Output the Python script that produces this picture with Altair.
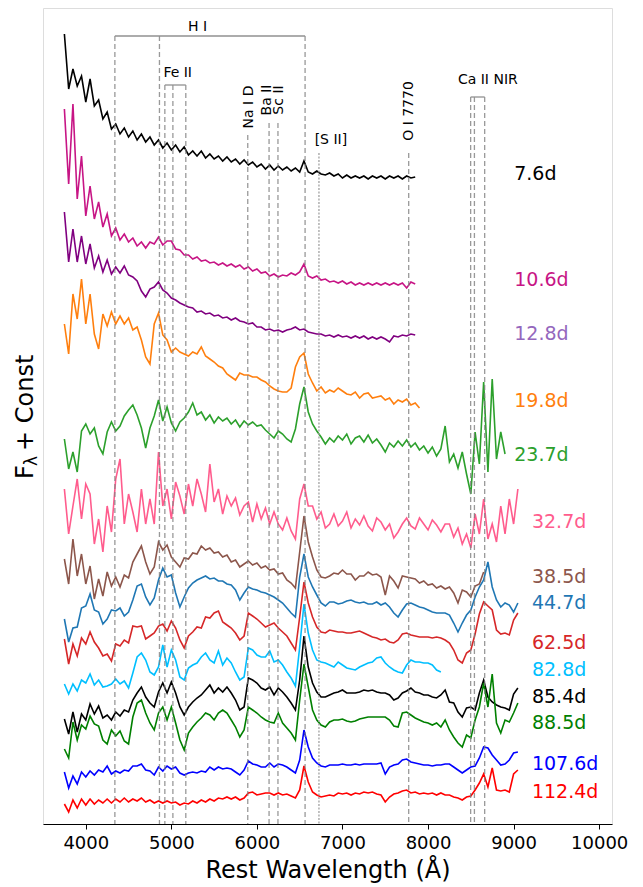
import altair as alt
import pandas as pd

# ---------------- data ----------------
WL_START = 3750.0   # first sample of every spectrum (Angstrom)
WL_STEP = 50.0      # sample spacing (Angstrom)

epochs = ["7.6d", "10.6d", "12.8d", "19.8d", "23.7d", "32.7d", "38.5d",
          "44.7d", "62.5d", "82.8d", "85.4d", "88.5d", "107.6d", "112.4d"]
line_colors = ["#000000", "#c71585", "#800080", "#ff7f0e", "#2ca02c", "#ff5c8d",
               "#8c564b", "#1f77b4", "#d62728", "#00bfff", "#000000", "#008000",
               "#0000ff", "#ff0000"]
label_colors = ["#000000", "#c71585", "#9467bd", "#ff7f0e", "#2ca02c", "#ff5c8d",
                "#8c564b", "#1f77b4", "#d62728", "#00bfff", "#000000", "#008000",
                "#0000ff", "#ff0000"]
label_wl = [9007, 9007, 9007, 9007, 9007, 9214, 9214, 9214, 9214, 9214, 9214, 9214, 9214, 9214]
label_flux = [650, 544, 490, 423, 369, 302, 247, 221, 181, 154, 127, 101, 60, 32]

f_7_6 = [
    790, 735, 755, 738, 748, 722, 745, 718, 724, 705,
    712, 695, 700, 690, 696, 687, 693, 684, 690, 682,
    687, 679, 684, 676, 681, 674, 679, 672, 677, 669,
    673, 668, 673, 666, 670, 665, 668, 663, 667, 662,
    665, 660, 664, 659, 662, 657, 660, 655, 659, 654,
    658, 654, 657, 653, 656, 652, 663, 652, 650, 653,
    650, 649, 651, 648, 650, 646, 649, 646, 648, 646,
    648, 645, 648, 646, 648, 645, 648, 646, 648, 645,
    648, 646, 647]
f_10_6 = [
    715, 640, 720, 625, 668, 608, 638, 605, 622, 597,
    610, 588, 596, 584, 590, 582, 586, 578, 582, 576,
    582, 580, 587, 579, 583, 583, 575, 574, 569, 569,
    565, 567, 563, 564, 561, 562, 559, 561, 558, 560,
    557, 559, 555, 557, 553, 555, 551, 552, 548, 550,
    547, 549, 548, 551, 549, 552, 560, 548, 546, 548,
    544, 545, 542, 543, 541, 543, 540, 542, 539, 541,
    539, 541, 539, 541, 539, 541, 539, 541, 539, 541,
    536, 542, 540]
f_12_8 = [
    612, 562, 595, 562, 588, 560, 580, 556, 568, 552,
    564, 550, 557, 551, 558, 549, 547, 543, 533, 527,
    535, 537, 542, 534, 531, 526, 524, 521, 519, 517,
    516, 512, 513, 510, 511, 508, 509, 506, 507, 504,
    506, 503, 502, 500, 501, 497, 497, 494, 495, 493,
    494, 492, 494, 495, 497, 494, 495, 492, 491, 490,
    490, 488, 489, 487, 489, 487, 488, 486, 488, 486,
    488, 485, 487, 485, 487, 485, 482, 488, 487, 489,
    488, 490, 489]
f_19_8 = [
    500, 470, 530, 505, 545, 500, 530, 490, 475, 510,
    498, 512, 500, 508, 500, 506, 494, 497, 484, 467,
    460, 500, 511, 489, 484, 472, 476, 472, 470, 468,
    472, 470, 477, 468, 465, 462, 458, 456, 450, 447,
    444, 451, 449, 449, 447, 447, 444, 442, 438, 435,
    433, 432, 432, 436, 457, 467, 471, 450, 441, 433,
    437, 431, 434, 432, 436, 433, 430, 429, 432, 426,
    430, 431, 426, 427, 428, 424, 426, 420, 424, 422,
    425, 419, 421, 416]
f_23_7 = [
    385, 355, 372, 352, 393, 400, 390, 396, 378, 370,
    392, 402, 393, 398, 408, 414, 419, 409, 396, 376,
    396, 408, 424, 403, 417, 401, 393, 402, 406, 412,
    421, 409, 412, 404, 409, 401, 407, 403, 406, 400,
    404, 397, 403, 399, 402, 398, 399, 394, 390, 386,
    393, 390, 385, 382, 395, 420, 437, 412, 400, 393,
    387, 380, 386, 382, 388, 384, 390, 380, 386, 388,
    382, 389, 381, 385, 379, 372, 381, 377, 383, 378,
    384, 377, 381, 374, 378, 371, 377, 368, 375, 398,
    362, 370, 356, 372, 350, 330, 392, 360, 442, 352,
    445, 365, 392, 370]
f_32_7 = [
    335, 290, 318, 345, 305, 340, 330, 280, 305, 272,
    318, 292, 345, 365, 300, 330, 312, 292, 335, 300,
    325, 300, 372, 318, 335, 305, 342, 328, 310, 340,
    318, 345, 330, 312, 360, 322, 335, 310, 328, 318,
    326, 309, 318, 322, 302, 320, 305, 316, 300, 312,
    300, 294, 306, 293, 285, 325, 340, 318, 318, 305,
    312, 296, 300, 310, 298, 303, 312, 296, 305, 299,
    308, 298, 293, 306, 302, 294, 300, 286, 292, 300,
    306, 298, 295, 306, 300, 294, 304, 299, 292, 300,
    300, 287, 296, 280, 290, 276, 310, 290, 325, 285,
    300, 282, 318, 290, 325, 300, 335]
f_38_5 = [
    265, 240, 285, 248, 270, 240, 258, 225, 245, 228,
    252, 238, 247, 237, 249, 246, 262, 270, 278, 262,
    250, 257, 282, 274, 279, 267, 262, 257, 266, 265,
    271, 270, 278, 274, 276, 271, 272, 267, 269, 262,
    264, 257, 260, 263, 259, 261, 256, 258, 254, 255,
    250, 251, 244, 241, 236, 272, 308, 282, 267, 254,
    247, 246, 248, 251, 250, 254, 250, 250, 244, 248,
    248, 252, 249, 250, 247, 229, 248, 243, 236, 248,
    247, 246, 245, 241, 243, 239, 240, 236, 238, 235,
    237, 231, 221, 234, 232, 227, 238, 240, 252]
f_44_7 = [
    205, 182, 196, 197, 216, 218, 230, 214, 212, 200,
    205, 214, 213, 216, 208, 212, 224, 238, 240, 227,
    219, 226, 244, 256, 247, 249, 231, 217, 227, 236,
    241, 244, 246, 248, 245, 246, 243, 243, 240, 239,
    234, 224, 231, 237, 235, 234, 232, 231, 229, 227,
    224, 221, 216, 211, 207, 247, 270, 247, 237, 229,
    221, 218, 222, 222, 220, 221, 223, 224, 222, 221,
    222, 220, 220, 222, 219, 221, 217, 211, 207, 214,
    220, 221, 219, 217, 216, 214, 212, 211, 211, 211,
    209, 201, 192, 201, 209, 214, 227, 237, 244, 262,
    237, 224, 217, 221, 219, 212, 221]
f_62_5 = [
    185, 160, 180, 168, 186, 180, 192, 182, 176, 168,
    170, 163, 180, 178, 184, 181, 198, 197, 198, 185,
    188, 191, 198, 200, 193, 203, 196, 184, 176, 188,
    192, 197, 196, 207, 206, 211, 213, 202, 199, 196,
    191, 184, 188, 211, 208, 205, 201, 197, 199, 201,
    196, 192, 188, 181, 174, 207, 242, 221, 207, 197,
    192, 191, 194, 193, 192, 192, 191, 191, 192, 193,
    191, 189, 187, 186, 184, 185, 182, 181, 184, 190,
    191, 189, 188, 187, 187, 187, 186, 187, 186, 184,
    181, 174, 164, 161, 171, 174, 190, 210, 222, 218,
    214, 194, 190, 191, 189, 204, 211]
f_82_8 = [
    140, 130, 140, 133, 144, 141, 150, 139, 144, 137,
    138, 140, 145, 140, 143, 136, 151, 167, 171, 164,
    152, 149, 157, 179, 157, 174, 164, 147, 144, 156,
    159, 161, 167, 171, 164, 161, 173, 159, 166, 161,
    152, 144, 147, 176, 174, 169, 167, 167, 173, 162,
    164, 159, 152, 146, 138, 177, 220, 191, 174, 164,
    162, 161, 159, 157, 162, 159, 156, 155, 154, 157,
    159, 161, 162, 166, 167, 161, 157, 154, 152, 151,
    159, 164, 162, 162, 161, 161, 159, 154, 152]
f_85_4 = [
    105, 90, 112, 92, 110, 104, 120, 110, 118, 106,
    109, 104, 112, 108, 114, 112, 124, 131, 137, 127,
    121, 117, 132, 141, 131, 142, 131, 117, 109, 117,
    122, 126, 129, 134, 139, 131, 136, 132, 137, 131,
    124, 114, 117, 146, 144, 141, 136, 134, 137, 129,
    136, 132, 127, 121, 114, 144, 188, 157, 141, 132,
    127, 127, 129, 131, 132, 134, 131, 131, 131, 132,
    134, 133, 134, 132, 131, 131, 129, 124, 126, 131,
    133, 136, 132, 131, 129, 129, 127, 126, 129, 134,
    122, 121, 112, 107, 116, 117, 114, 131, 144, 127,
    122, 119, 117, 116, 114, 130, 136]
f_88_5 = [
    75, 66, 102, 84, 99, 95, 108, 100, 98, 84,
    80, 94, 88, 93, 83, 80, 107, 121, 124, 111,
    101, 94, 111, 117, 104, 117, 101, 84, 74, 91,
    97, 102, 106, 111, 109, 104, 111, 114, 111, 104,
    97, 87, 94, 117, 114, 111, 107, 104, 102, 101,
    111, 101, 96, 91, 84, 124, 160, 137, 114, 104,
    99, 97, 102, 104, 104, 105, 103, 102, 103, 105,
    106, 107, 107, 107, 107, 107, 104, 98, 97, 111,
    112, 109, 106, 104, 102, 101, 99, 101, 97, 104,
    94, 87, 81, 77, 89, 86, 104, 117, 141, 117,
    150, 101, 91, 104, 102, 111, 121]
f_107_6 = [
    52, 36, 48, 40, 52, 47, 53, 49, 54, 52,
    58, 50, 53, 51, 54, 53, 58, 58, 60, 54,
    53, 49, 57, 53, 58, 55, 57, 51, 49, 51,
    52, 51, 53, 52, 57, 54, 57, 55, 56, 55,
    52, 49, 54, 63, 60, 59, 57, 57, 61, 57,
    60, 59, 57, 54, 51, 64, 94, 77, 66, 61,
    58, 57, 59, 59, 59, 60, 59, 59, 60, 59,
    60, 60, 60, 60, 61, 50, 57, 59, 60, 64,
    65, 62, 61, 60, 59, 59, 58, 59, 59, 60,
    60, 57, 54, 51, 54, 57, 58, 66, 77, 76,
    69, 64, 59, 60, 64, 71, 72]
f_112_4 = [
    20, 12, 24, 16, 25, 19, 25, 20, 24, 21,
    25, 21, 25, 22, 26, 22, 25, 23, 26, 22,
    24, 21, 23, 21, 23, 21, 22, 19, 21, 20,
    23, 21, 24, 22, 25, 23, 26, 25, 27, 25,
    27, 24, 26, 31, 32, 29, 30, 31, 31, 29,
    31, 29, 30, 28, 26, 34, 58, 42, 32, 29,
    27, 28, 29, 28, 31, 30, 31, 29, 31, 30,
    32, 31, 32, 30, 29, 22, 27, 30, 31, 33,
    34, 31, 32, 30, 31, 30, 31, 29, 31, 29,
    29, 27, 26, 24, 27, 28, 34, 41, 50, 37,
    56, 34, 33, 34, 32, 50, 54]

fluxes = [f_7_6, f_10_6, f_12_8, f_19_8, f_23_7, f_32_7, f_38_5,
          f_44_7, f_62_5, f_82_8, f_85_4, f_88_5, f_107_6, f_112_4]

# line identifications
marker_wl = [4340, 4861, 6563, 4924, 5018, 5169, 5893, 6142, 6246, 7774, 8498, 8542, 8662]
marker_top = [788, 788, 788, 739, 739, 739, 689, 701, 701, 671, 727, 727, 727]
sii_wl = [6725]
sii_top = [671]
bracket_start = [4340, 4924, 8498]
bracket_end = [6563, 5169, 8662]
bracket_level = [788, 739, 727]
ion_text = ["H I", "Fe II", "[S II]", "Ca II NIR"]
ion_wl = [5307, 5074, 6865, 8699]
ion_flux = [797, 751, 684, 744]
ion_vtext = ["Na I D", "Ba II", "Sc II", "O I 7770"]
ion_vwl = [5906, 6123, 6263, 7777]
ion_vflux = [717, 724, 724, 713]

x_ticks = [4000, 5000, 6000, 7000, 8000, 9000, 10000]

# ---------------- chart ----------------
FONT = "DejaVu Sans"
W, H = 569, 816
xscale = alt.Scale(domain=[3500, 10150], nice=False, zero=False)
yscale = alt.Scale(domain=[0, 816], nice=False, zero=False)
xaxis = alt.Axis(values=x_ticks, format="d", grid=False, tickSize=5, tickColor="black",
                 tickWidth=1, domainColor="black", labelFontSize=18, labelPadding=5,
                 labelColor="black", labelFont=FONT, labelOverlap=False, labelFlush=False,
                 title="Rest Wavelength (Å)", titleFontSize=24, titleFont=FONT,
                 titleFontWeight="normal", titleColor="black", titleY=53,
                 titleBaseline="alphabetic")


def X(field):
    return alt.X(f"{field}:Q", scale=xscale, axis=xaxis)


def Y(field):
    return alt.Y(f"{field}:Q", scale=yscale, axis=None)


layers = []
for ep, col, fl in zip(epochs, line_colors, fluxes):
    df = pd.DataFrame({"wl": [WL_START + WL_STEP * i for i in range(len(fl))],
                       "flux": fl, "epoch": ep})
    layers.append(alt.Chart(df).mark_line(color=col, strokeWidth=1.6, clip=True)
                  .encode(x=X("wl"), y=Y("flux")))

mk = pd.DataFrame({"wl": marker_wl, "flux": marker_top, "bottom": [0] * len(marker_wl)})
layers.append(alt.Chart(mk).mark_rule(color="#808080", opacity=0.8, strokeWidth=1.3,
                                      strokeDash=[5, 3])
              .encode(x=X("wl"), y=Y("flux"), y2="bottom:Q"))
sk = pd.DataFrame({"wl": sii_wl, "flux": sii_top, "bottom": [0]})
layers.append(alt.Chart(sk).mark_rule(color="#a0a0a0", opacity=0.8, strokeWidth=1.6,
                                      strokeDash=[2, 1.5])
              .encode(x=X("wl"), y=Y("flux"), y2="bottom:Q"))
br = pd.DataFrame({"wl": bracket_start, "wl2": bracket_end, "flux": bracket_level})
layers.append(alt.Chart(br).mark_rule(color="#909090", strokeWidth=1.3)
              .encode(x=X("wl"), x2="wl2:Q", y=Y("flux")))

it = pd.DataFrame({"wl": ion_wl, "flux": ion_flux, "t": ion_text})
layers.append(alt.Chart(it).mark_text(font=FONT, fontSize=14, color="black",
                                      align="center", baseline="middle")
              .encode(x=X("wl"), y=Y("flux"), text="t:N"))
iv = pd.DataFrame({"wl": ion_vwl, "flux": ion_vflux, "t": ion_vtext})
layers.append(alt.Chart(iv).mark_text(font=FONT, fontSize=14, color="black", angle=270,
                                      align="center", baseline="middle")
              .encode(x=X("wl"), y=Y("flux"), text="t:N"))

lb = pd.DataFrame({"wl": label_wl, "flux": label_flux, "t": epochs, "c": label_colors})
layers.append(alt.Chart(lb).mark_text(font=FONT, fontSize=19, align="left",
                                      baseline="middle")
              .encode(x=X("wl"), y=Y("flux"), text="t:N",
                      color=alt.Color("c:N", scale=None)))

# y-axis title  F_lambda + Const  (pieces, rotated)
yt = pd.DataFrame({"t": ["F", "λ", "+ Const"], "fs": [24, 17, 24],
                   "px": [-10, -6, -10], "py": [471, 458, 443]})
for i in range(3):
    row = yt.iloc[[i]]
    layers.append(alt.Chart(row).mark_text(font=FONT, fontSize=int(row["fs"].iloc[0]),
                                           angle=270, align="left",
                                           baseline="alphabetic", color="black")
                  .encode(text="t:N", x=alt.value(float(row["px"].iloc[0])),
                          y=alt.value(float(row["py"].iloc[0]))))

chart = (alt.layer(*layers)
         .properties(width=W, height=H,
                     autosize=alt.AutoSizeParams(type="none"),
                     padding={"left": 35, "top": 0, "right": 16, "bottom": 60})
         .configure_view(stroke="black", strokeWidth=1.2)
         .configure(background="white"))

chart.save("out.html", embed_options={"renderer": "svg", "actions": False})
